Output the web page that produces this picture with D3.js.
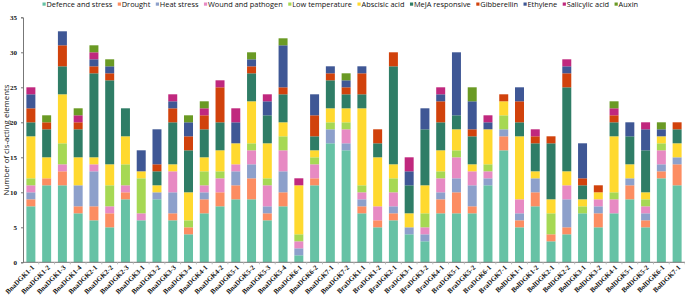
<!DOCTYPE html>
<html><head><meta charset="utf-8">
<script src="https://cdn.jsdelivr.net/npm/d3@7"></script>
<style>body{margin:0;background:#fff}svg{display:block}</style>
</head><body>
<svg id="chart" width="685" height="299"></svg>
<script>
const categories = ["BnaDGK1-1","BnaDGK1-2","BnaDGK1-3","BnaDGK1-4","BnaDGK2-1","BnaDGK2-2","BnaDGK2-3","BnaDGK3-1","BnaDGK3-2","BnaDGK3-3","BnaDGK3-4","BnaDGK4-1","BnaDGK4-2","BnaDGK5-1","BnaDGK5-2","BnaDGK5-3","BnaDGK5-4","BnaDGK6-1","BnaDGK6-2","BnaDGK7-1","BnaDGK7-2","BraDGK1-1","BraDGK1-2","BraDGK2-1","BraDGK3-1","BraDGK3-2","BraDGK4-1","BraDGK5-1","BraDGK5-2","BraDGK6-1","BraDGK7-1","BolDGK1-1","BolDGK1-2","BolDGK2-1","BolDGK2-2","BolDGK3-1","BolDGK3-2","BolDGK4-1","BolDGK5-1","BolDGK5-2","BolDGK6-1","BolDGK7-1"];
const seriesNames = ["Defence and stress","Drought","Heat stress","Wound and pathogen","Low temperature","Abscisic acid","MeJA responsive","Gibberellin","Ethylene","Salicylic acid","Auxin"];
const defence   = [8,11,11,7,6,5,9,6,9,6,4,7,8,9,9,6,8,1,11,17,16,7,5,6,4,3,7,7,7,11,16,5,8,3,4,7,5,7,9,5,12,11];
const drought   = [1,1,2,1,2,2,1,0,0,1,1,2,2,2,3,1,2,0,1,0,0,1,1,1,0,0,2,3,1,0,2,1,2,1,1,0,2,0,2,1,1,3];
const heat      = [1,0,0,3,5,0,0,0,1,3,0,1,0,2,2,1,3,1,0,2,1,1,0,1,1,1,1,2,3,1,1,1,2,0,4,0,1,0,1,1,1,1];
const wound     = [1,0,1,0,1,1,1,1,0,3,0,1,2,1,2,3,3,1,2,0,2,1,2,2,0,1,2,3,2,1,0,2,0,0,2,0,1,2,0,1,2,0];
const lowTemp   = [1,0,3,0,0,3,3,5,0,0,1,2,1,0,1,1,2,1,1,1,1,1,0,2,0,2,1,1,0,1,2,0,0,3,0,1,0,1,0,1,1,0];
const abscisic  = [6,3,7,4,1,3,4,1,1,1,4,2,3,3,6,5,2,7,1,2,2,11,7,2,2,4,3,3,1,5,2,9,1,2,2,1,1,8,2,1,1,2];
const meja      = [2,4,4,4,12,12,4,0,2,6,6,4,4,0,4,4,4,0,2,4,2,2,2,14,4,8,4,2,4,0,0,2,4,8,12,2,0,2,4,6,0,2];
const gibb      = [2,1,3,1,1,1,0,0,1,2,2,2,5,0,1,0,1,0,3,1,1,3,2,2,0,0,3,0,1,0,1,3,1,1,2,1,1,1,0,0,0,1];
const ethylene  = [2,0,2,0,1,1,0,3,5,1,2,0,0,3,1,2,6,0,3,1,1,1,0,0,2,3,1,9,4,1,0,2,0,0,1,5,0,0,2,3,1,0];
const salicylic = [1,0,0,1,1,0,0,0,0,1,0,1,1,2,0,1,0,1,0,0,0,0,0,0,2,0,1,0,0,1,0,0,1,0,1,0,0,1,0,1,0,0];
const auxin     = [0,1,0,1,1,1,0,0,0,0,1,1,0,0,1,0,1,0,0,0,1,0,0,0,0,0,0,0,2,0,0,0,0,0,0,0,0,1,0,0,1,0];
const yTicks = [0,5,10,15,20,25,30,35];
const colors = ["#66c2a5","#fc8d62","#8da0cb","#e78ac3","#a6d854","#ffd92f","#2f7d66","#d1420c","#3f5795","#c0287e","#6a9a24"];

const seriesVals = [defence,drought,heat,wound,lowTemp,abscisic,meja,gibb,ethylene,salicylic,auxin];
const rows = categories.map((c,i)=>{const r={cat:c}; seriesNames.forEach((s,k)=>r[s]=seriesVals[k][i]); return r;});
const stack = d3.stack().keys(seriesNames)(rows);

const svg = d3.select("#chart");
const x = d3.scaleBand().domain(categories).range([23,685]).paddingInner(0.43).paddingOuter(0.215);
const y = d3.scaleLinear().domain([0,35]).range([262.3,17.3]);

svg.append("g").selectAll("g").data(stack).join("g").attr("fill",(d,i)=>colors[i])
  .selectAll("rect").data(d=>d).join("rect")
  .attr("x",d=>x(d.data.cat)).attr("width",x.bandwidth())
  .attr("y",d=>y(d[1])).attr("height",d=>y(d[0])-y(d[1]));

// y axis
const ya = svg.append("g").attr("transform","translate(23,0)")
  .call(d3.axisLeft(y).tickValues(yTicks).tickSize(2).tickPadding(4));
ya.select(".domain").attr("stroke","#777");
ya.selectAll(".tick line").attr("stroke","#777");
ya.selectAll("text").attr("font-family","Liberation Serif").attr("font-weight","bold").attr("font-size","7px").attr("fill","#111");

// x axis
const xa = svg.append("g").attr("transform","translate(0,262.3)");
xa.append("line").attr("x1",23).attr("x2",685).attr("stroke","#777");
const step = x.step();
xa.selectAll("line.tk").data(categories).join("line").attr("class","tk")
  .attr("x1",d=>x(d)+x.bandwidth()/2+step/2).attr("x2",d=>x(d)+x.bandwidth()/2+step/2)
  .attr("y1",0).attr("y2",2).attr("stroke","#bbb");
xa.selectAll("text").data(categories).join("text")
  .attr("transform",d=>`translate(${x(d)+x.bandwidth()/2+2},4) rotate(-45)`)
  .attr("text-anchor","end").attr("dy","0.35em")
  .attr("font-family","Liberation Serif").attr("font-weight","bold").attr("font-size","7px").attr("fill","#111")
  .text(d=>d);

// y label
svg.append("text").attr("transform","translate(9,140) rotate(-90)")
  .attr("text-anchor","middle").attr("font-family","Open Sans").attr("font-size","7.8px").attr("fill","#111")
  .text("Number of cis-acting elements");

// legend
const lg = svg.append("g");
let lx = 42.5;
seriesNames.forEach((s,i)=>{
  lg.append("rect").attr("x",lx).attr("y",2.5).attr("width",3.2).attr("height",3.2).attr("fill",colors[i]);
  const t = lg.append("text").attr("x",lx+4).attr("y",7.2).attr("font-family","Open Sans").attr("font-size","7.4px").attr("fill","#111").text(s);
  lx += 4 + t.node().getComputedTextLength() + 5.5;
});
</script>
</body></html>
